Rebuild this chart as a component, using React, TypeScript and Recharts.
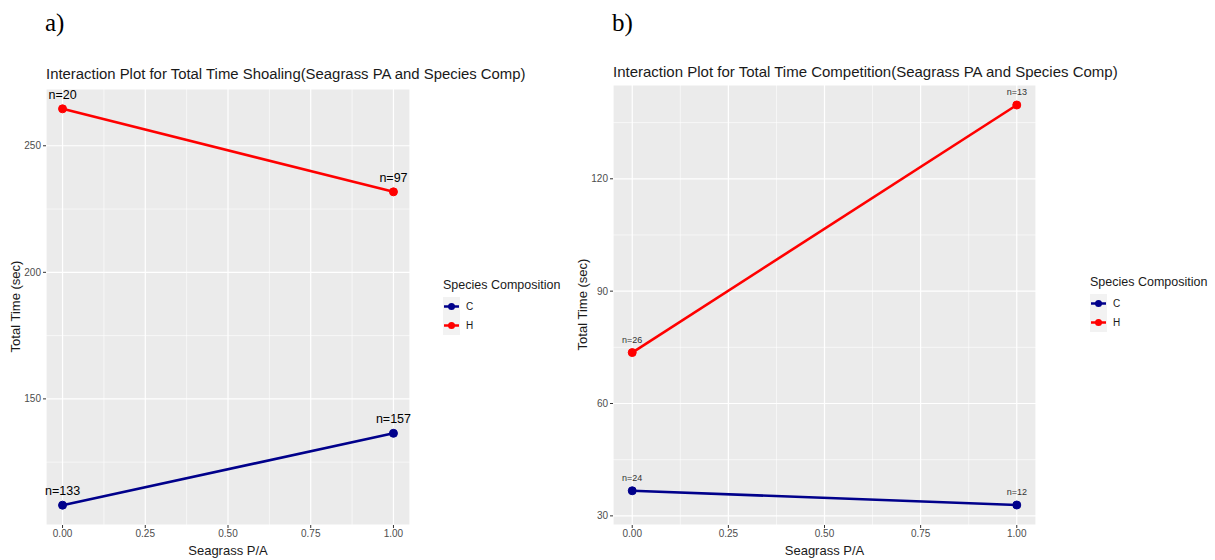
import React from 'react';
import {
  LineChart,
  Line,
  XAxis,
  YAxis,
  CartesianGrid,
  ReferenceLine,
  LabelList,
} from 'recharts';

const FONT = '"Liberation Sans", Arial, sans-serif';

// shared x axis (seagrass absent / present)
const seagrass = [0, 1];
const xTicks = [0, 0.25, 0.5, 0.75, 1];
const xMinor = [0.125, 0.375, 0.625, 0.875];

// a) total time shoaling
const shoalC = [108.0, 136.4];
const shoalH = [264.6, 231.8];
const shoalNC = ['n=133', 'n=157'];
const shoalNH = ['n=20', 'n=97'];
const shoalTicks = [150, 200, 250];
const shoalMinor = [125, 175, 225];

// b) total time competition
const compC = [36.7, 32.9];
const compH = [73.6, 139.7];
const compNC = ['n=24', 'n=12'];
const compNH = ['n=26', 'n=13'];
const compTicks = [30, 60, 90, 120];
const compMinor = [45, 75, 105, 135];

const BLUE = '#00008B';
const RED = '#FF0000';

// ggplot style 5% expansion on each side
const expand = (vals: number[], mult = 0.05): [number, number] => {
  const lo = Math.min(...vals);
  const hi = Math.max(...vals);
  const pad = (hi - lo) * mult;
  return [lo - pad, hi + pad];
};

const buildRows = (c: number[], h: number[], nc: string[], nh: string[]) =>
  seagrass.map((x, i) => ({ x, C: c[i], H: h[i], nC: nc[i], nH: nh[i] }));

interface PanelProps {
  left: number;
  width: number;
  plotLeft: number;
  plotRight: number;
  plotTop: number;
  rows: ReturnType<typeof buildRows>;
  yTicks: number[];
  yMinor: number[];
  title: string;
  titleSize: number;
  titleTop: number;
  labelSize: number;
  labelColor: string;
  legendLeft: number;
  legendTop: number;
  tag: string;
}

const LegendBox: React.FC<{ x: number; y: number }> = ({ x, y }) => (
  <div style={{ position: 'absolute', left: x, top: y, fontFamily: FONT }}>
    <div style={{ fontSize: 12.5, color: '#1a1a1a', marginBottom: 5, whiteSpace: 'nowrap' }}>
      Species Composition
    </div>
    {[
      { name: 'C', color: BLUE },
      { name: 'H', color: RED },
    ].map((k) => (
      <div key={k.name} style={{ display: 'flex', alignItems: 'center', height: 19 }}>
        <svg width={17} height={19}>
          <rect x={0} y={0} width={17} height={19} fill="#F2F2F2" />
          <line x1={1} y1={9.5} x2={16} y2={9.5} stroke={k.color} strokeWidth={2.5} />
          <circle cx={8.5} cy={9.5} r={3.5} fill={k.color} />
        </svg>
        <span style={{ fontSize: 10, color: '#1a1a1a', marginLeft: 6 }}>{k.name}</span>
      </div>
    ))}
  </div>
);

const Panel: React.FC<PanelProps> = (p) => {
  const height = 560;
  const yAxisWidth = 30;
  const xAxisHeight = 20;
  const yDomain = expand([...p.rows.map((r) => r.C), ...p.rows.map((r) => r.H)]);
  const xDomain = expand(seagrass);
  const centerX = (p.plotLeft + p.plotRight) / 2;
  const centerY = (p.plotTop + 525) / 2;

  return (
    <>
      <div
        style={{
          position: 'absolute',
          left: p.plotLeft - 1,
          top: 9,
          fontFamily: '"Liberation Serif", "Times New Roman", serif',
          fontSize: 25,
          color: '#000',
        }}
      >
        {p.tag}
      </div>
      <div
        style={{
          position: 'absolute',
          left: p.plotLeft,
          top: p.titleTop,
          fontFamily: FONT,
          fontSize: p.titleSize,
          color: '#1a1a1a',
          whiteSpace: 'nowrap',
        }}
      >
        {p.title}
      </div>
      <div style={{ position: 'absolute', left: p.left, top: 0 }}>
        <LineChart
          width={p.width}
          height={height}
          data={p.rows}
          margin={{
            top: p.plotTop,
            left: p.plotLeft - p.left - yAxisWidth,
            right: p.left + p.width - p.plotRight,
            bottom: height - 525 - xAxisHeight,
          }}
        >
          <CartesianGrid fill="#EBEBEB" stroke="#FFFFFF" strokeWidth={1.2} />
          {p.yMinor.map((v) => (
            <ReferenceLine key={`hy${v}`} y={v} stroke="#FFFFFF" strokeWidth={0.6} />
          ))}
          {xMinor.map((v) => (
            <ReferenceLine key={`vx${v}`} x={v} stroke="#FFFFFF" strokeWidth={0.6} />
          ))}
          <XAxis
            type="number"
            dataKey="x"
            domain={xDomain}
            ticks={xTicks}
            allowDataOverflow
            tickFormatter={(v: number) => v.toFixed(2)}
            axisLine={false}
            tickLine={{ stroke: '#333333' }}
            tickSize={3}
            tickMargin={2}
            height={xAxisHeight}
            tick={{ fontSize: 10, fill: '#4D4D4D', fontFamily: FONT }}
          />
          <YAxis
            type="number"
            domain={yDomain}
            ticks={p.yTicks}
            allowDataOverflow
            axisLine={false}
            tickLine={{ stroke: '#333333' }}
            tickSize={3}
            tickMargin={2}
            width={yAxisWidth}
            tick={{ fontSize: 10, fill: '#4D4D4D', fontFamily: FONT }}
          />
          <Line
            type="linear"
            dataKey="C"
            stroke={BLUE}
            strokeWidth={2.6}
            dot={{ r: 4, fill: BLUE, stroke: BLUE, strokeWidth: 1 }}
            activeDot={false}
            isAnimationActive={false}
          >
            <LabelList
              dataKey="nC"
              position="top"
              offset={10}
              style={{ fontSize: p.labelSize, fill: p.labelColor, fontFamily: FONT }}
            />
          </Line>
          <Line
            type="linear"
            dataKey="H"
            stroke={RED}
            strokeWidth={2.6}
            dot={{ r: 4, fill: RED, stroke: RED, strokeWidth: 1 }}
            activeDot={false}
            isAnimationActive={false}
          >
            <LabelList
              dataKey="nH"
              position="top"
              offset={10}
              style={{ fontSize: p.labelSize, fill: p.labelColor, fontFamily: FONT }}
            />
          </Line>
        </LineChart>
      </div>
      <div
        style={{
          position: 'absolute',
          left: centerX - 100,
          width: 200,
          top: 543,
          textAlign: 'center',
          fontFamily: FONT,
          fontSize: 13,
          color: '#1a1a1a',
        }}
      >
        Seagrass P/A
      </div>
      <div
        style={{
          position: 'absolute',
          left: p.plotLeft - 31 - 100,
          top: centerY - 8,
          width: 200,
          textAlign: 'center',
          fontFamily: FONT,
          fontSize: 13,
          color: '#1a1a1a',
          transform: 'rotate(-90deg)',
        }}
      >
        Total Time (sec)
      </div>
      <LegendBox x={p.legendLeft} y={p.legendTop} />
    </>
  );
};

export default function App() {
  return (
    <div
      style={{
        position: 'absolute',
        left: 0,
        top: 0,
        width: 1215,
        height: 560,
        background: '#FFFFFF',
        overflow: 'hidden',
      }}
    >
      <Panel
        tag="a)"
        left={0}
        width={540}
        plotLeft={46}
        plotRight={410}
        plotTop={89}
        rows={buildRows(shoalC, shoalH, shoalNC, shoalNH)}
        yTicks={shoalTicks}
        yMinor={shoalMinor}
        title="Interaction Plot for Total Time Shoaling(Seagrass PA and Species Comp)"
        titleSize={14.9}
        titleTop={66}
        labelSize={12.5}
        labelColor="#000000"
        legendLeft={443}
        legendTop={278}
        />
      <Panel
        tag="b)"
        left={567}
        width={600}
        plotLeft={613}
        plotRight={1036}
        plotTop={85}
        rows={buildRows(compC, compH, compNC, compNH)}
        yTicks={compTicks}
        yMinor={compMinor}
        title="Interaction Plot for Total Time Competition(Seagrass PA and Species Comp)"
        titleSize={15}
        titleTop={63}
        labelSize={9}
        labelColor="#333333"
        legendLeft={1090}
        legendTop={275}
      />
    </div>
  );
}
